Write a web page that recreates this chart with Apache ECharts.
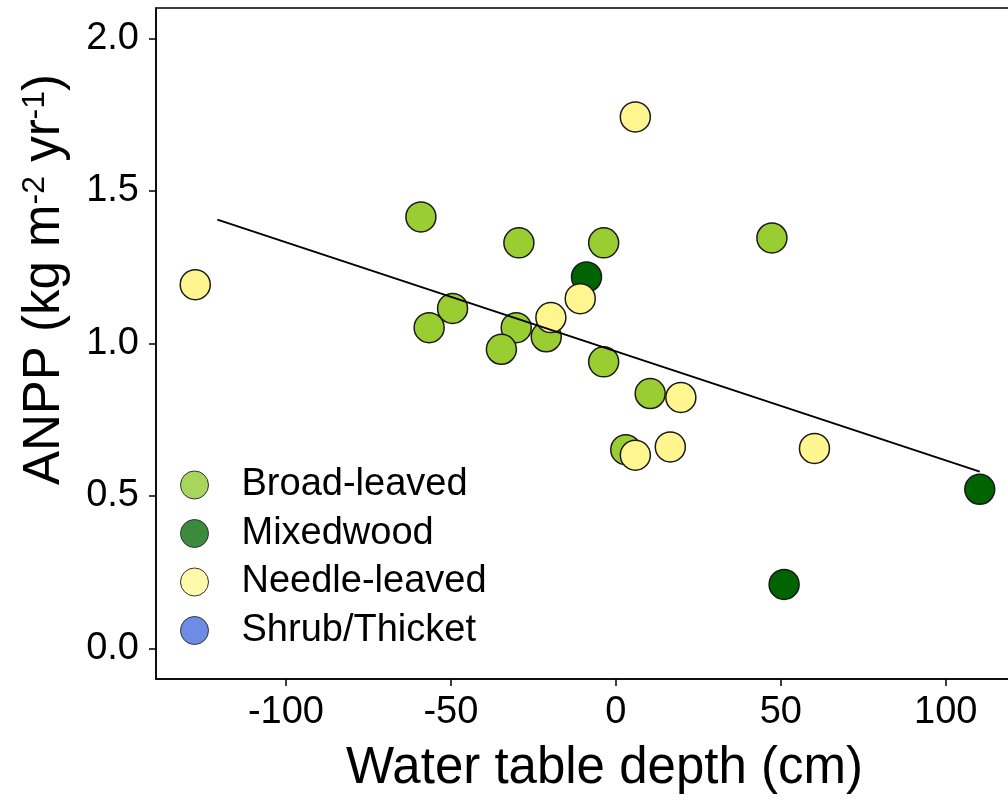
<!DOCTYPE html>
<html>
<head>
<meta charset="utf-8">
<script src="https://cdn.jsdelivr.net/npm/echarts@6/dist/echarts.min.js"></script>
<style>html,body{margin:0;padding:0;background:#fff;overflow:hidden;width:1008px;height:800px;}#chart{width:1022px;height:800px;}</style>
</head>
<body>
<div id="chart"></div>
<script>
// ---- data ----
const categories = ['Broad-leaved', 'Mixedwood', 'Needle-leaved', 'Shrub/Thicket'];
const broadX  = [-59.1, -29.4, -3.7, 47.3, -49.5, -56.6, -30.2, -21.1, -34.7, -3.7, 10.4, 3.0];
const broadY  = [1.415, 1.330, 1.330, 1.346, 1.115, 1.052, 1.052, 1.022, 0.981, 0.940, 0.836, 0.652];
const mixedX  = [-8.9, 110.3, 51.0];
const mixedY  = [1.218, 0.522, 0.210];
const needleX = [-127.5, 5.9, -10.8, -19.7, 19.7, 5.9, 16.5, 60.2];
const needleY = [1.193, 1.743, 1.147, 1.085, 0.823, 0.634, 0.661, 0.656];
const shrubX  = [];
const shrubY  = [];
const fitX = [-120.8, 110.3];
const fitY = [1.406, 0.580];
const xTicks = [-100, -50, 0, 50, 100];
const yTicks = [0.0, 0.5, 1.0, 1.5, 2.0];

const pairs = (xs, ys) => xs.map((x, i) => [x, ys[i]]);
const FONT = '"Liberation Sans", Arial, sans-serif';
const pointColors = ['#9ACD32', '#006400', '#FFF68F', '#4169E1'];
const legendColors = ['#A8D65C', '#3C8A3C', '#FFF9AC', '#6E8CE6'];
const seriesXs = [broadX, mixedX, needleX, shrubX];
const seriesYs = [broadY, mixedY, needleY, shrubY];

const chart = echarts.init(document.getElementById('chart'), null, {renderer: 'canvas'});

const scatterSeries = categories.map((c, k) => ({
  name: c,
  type: 'scatter',
  data: pairs(seriesXs[k], seriesYs[k]),
  symbol: 'circle',
  symbolSize: 30,
  itemStyle: {color: pointColors[k], borderColor: '#1a1a1a', borderWidth: 1.5, opacity: 1},
  z: 2 + k,
  emphasis: {disabled: true}
}));

const option = {
  animation: false,
  backgroundColor: '#fff',
  grid: {left: 156, right: 3, top: 8, bottom: 121, show: true, borderColor: '#000', borderWidth: 1.5, backgroundColor: 'transparent'},
  xAxis: {
    type: 'value',
    min: -139.4, max: 122.2,
    name: 'Water table depth (cm)',
    nameLocation: 'middle',
    nameGap: 64,
    nameTextStyle: {fontSize: 51, fontFamily: FONT, color: '#000', padding: [0, 0, 0, 34]},
    axisLine: {show: true, onZero: false, lineStyle: {color: '#000', width: 1.5}},
    axisTick: {show: true, length: 7, lineStyle: {color: '#000', width: 1.5}, customValues: xTicks},
    axisLabel: {fontSize: 38, fontFamily: FONT, color: '#000', margin: 15, customValues: xTicks},
    splitLine: {show: false}
  },
  yAxis: {
    type: 'value',
    min: -0.1, max: 2.1,
    name: 'ANPP (kg m{sup|-2} yr{sup|-1})',
    nameLocation: 'middle',
    nameRotate: 90,
    nameGap: 86,
    nameTextStyle: {
      fontSize: 51, fontFamily: FONT, color: '#000', lineHeight: 51,
      padding: [0, 0, 0, 128],
      rich: {sup: {fontSize: 32, fontFamily: FONT, color: '#000', verticalAlign: 'top', lineHeight: 32}}
    },
    axisLine: {show: true, onZero: false, lineStyle: {color: '#000', width: 1.5}},
    axisTick: {show: true, length: 7, lineStyle: {color: '#000', width: 1.5}, customValues: yTicks},
    axisLabel: {fontSize: 38, fontFamily: FONT, color: '#000', margin: 17, customValues: yTicks,
      formatter: v => v.toFixed(1)},
    splitLine: {show: false}
  },
  legend: {
    data: categories.map((c, k) => ({name: c, itemStyle: {color: legendColors[k], borderColor: '#333', borderWidth: 1}})),
    icon: 'circle',
    orient: 'vertical',
    left: 180, top: 466,
    padding: 0,
    itemWidth: 28, itemHeight: 28, itemGap: 10.5,
    selectedMode: false,
    textStyle: {fontSize: 38, fontFamily: FONT, color: '#000', padding: [0, 0, 0, 28]}
  },
  series: scatterSeries.concat([{
    name: 'fit',
    type: 'line',
    data: pairs(fitX, fitY),
    symbol: 'none',
    lineStyle: {color: '#000', width: 2},
    z: 10,
    silent: true
  }])
};
chart.setOption(option);
</script>
</body>
</html>
